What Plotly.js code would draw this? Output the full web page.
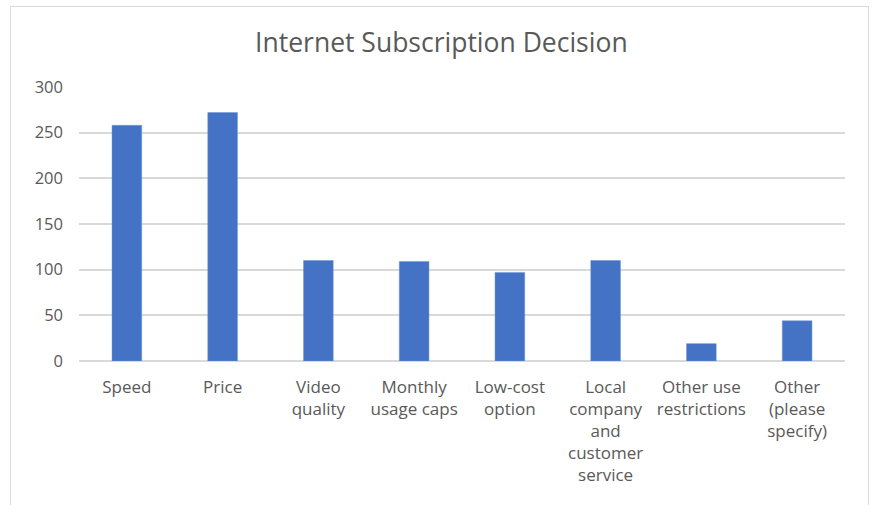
<!DOCTYPE html>
<html>
<head>
<meta charset="utf-8">
<script src="https://cdn.plot.ly/plotly-3.0.1.min.js"></script>
<style>
  body { margin: 0; background: #fff; }
  #frame { position: absolute; left: 10px; top: 6px; width: 857px; height: 520px; border: 1px solid #d9d9d9; }
  #chart { position: absolute; left: 0; top: 0; }
</style>
</head>
<body>
<div id="frame"></div>
<div id="chart"></div>
<script>
// answers to "what decided your internet subscription"
var categories = ['Speed', 'Price', 'Video<br>quality', 'Monthly<br>usage caps', 'Low-cost<br>option',
    'Local<br>company<br>and<br>customer<br>service', 'Other use<br>restrictions', 'Other<br>(please<br>specify)'];
var counts = [258, 272, 110, 109, 97, 110, 19, 44];
var yTicks = [0, 50, 100, 150, 200, 250, 300];

var font = 'Open Sans, sans-serif';
var grey = '#595959';

var data = [{
    type: 'bar',
    x: categories,
    y: counts,
    marker: {color: '#4472c4', line: {color: '#6f93d4', width: 0.5}},
    hoverinfo: 'x+y'
}];

var layout = {
    width: 874,
    height: 505,
    paper_bgcolor: 'rgba(0,0,0,0)',
    plot_bgcolor: 'rgba(0,0,0,0)',
    margin: {l: 79, r: 29, t: 87, b: 144},
    bargap: 0.69,
    showlegend: false,
    title: {
        text: 'Internet Subscription Decision',
        font: {family: font, size: 26.5, color: grey},
        x: 0.505, xanchor: 'center',
        y: 0.915, yanchor: 'middle'
    },
    xaxis: {
        tickfont: {family: font, size: 17, color: grey},
        showgrid: false,
        showline: false,
        zeroline: false,
        ticks: '',
        tickangle: 0,
        ticklabelstandoff: 14
    },
    yaxis: {
        range: [0, 300],
        tickvals: yTicks,
        tickfont: {family: font, size: 16.5, color: grey},
        showgrid: true,
        gridcolor: '#d9d9d9',
        gridwidth: 1.5,
        zeroline: true,
        zerolinecolor: '#d9d9d9',
        zerolinewidth: 1.5,
        showline: false,
        ticks: '',
        ticklabelstandoff: 15
    }
};

Plotly.newPlot('chart', data, layout, {displayModeBar: false});
</script>
</body>
</html>
